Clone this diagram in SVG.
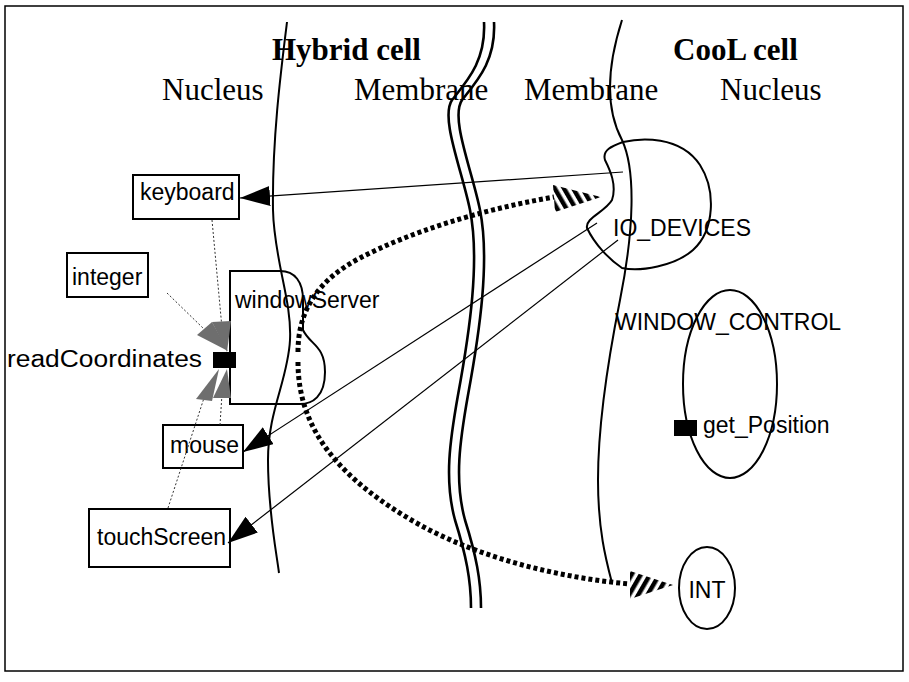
<svg xmlns="http://www.w3.org/2000/svg" width="909" height="682" viewBox="0 0 909 682">
<style>
.title{font-family:"Liberation Serif","Times New Roman",serif;font-size:31px;font-weight:bold;fill:#000}
.region{font-family:"Liberation Serif","Times New Roman",serif;font-size:31px;fill:#000}
.lbl{font-family:"Liberation Sans",Arial,sans-serif;font-size:23px;fill:#000}
.box{fill:#fff;stroke:#000;stroke-width:2}
.shape{fill:none;stroke:#000;stroke-width:2}
.bound{fill:none;stroke:#000;stroke-width:2}
.dbl{fill:none;stroke:#000;stroke-width:2.6}
.thin{fill:none;stroke:#000;stroke-width:1.2}
.dot{fill:none;stroke:#333;stroke-width:1;stroke-dasharray:2 2}
.hatch{fill:none;stroke:#000;stroke-width:5;stroke-dasharray:4 3}
.gray{fill:#6e6e6e}
</style>
<defs>
<marker id="arr" markerUnits="userSpaceOnUse" markerWidth="30" markerHeight="20" viewBox="0 0 30 20" refX="30" refY="10" orient="auto">
<path d="M0,0 L30,10 L0,20 Z" fill="#000"/>
</marker>
<pattern id="stripeA" patternUnits="userSpaceOnUse" width="8" height="8" patternTransform="rotate(-30)">
<rect x="0" y="0" width="4.5" height="8" fill="#000"/>
</pattern>
<pattern id="stripeB" patternUnits="userSpaceOnUse" width="8" height="8" patternTransform="rotate(30)">
<rect x="0" y="0" width="4.5" height="8" fill="#000"/>
</pattern>
</defs>
<rect x="5" y="6" width="898" height="665" fill="#fff" stroke="#000" stroke-width="1.5"/>

<g id="labels">
<text class="title" x="272" y="60">Hybrid cell</text>
<text class="title" x="673" y="60">CooL cell</text>
<text class="region" x="162" y="100">Nucleus</text>
<text class="region" x="354" y="100">Membrane</text>
<text class="region" x="524" y="100">Membrane</text>
<text class="region" x="720" y="100">Nucleus</text>
</g>

<g id="boundaries">
<path class="bound" d="M287,22 C281,70 272,140 273,210 C274,260 292,300 290,340 C288,380 268,410 268,460 C268,510 276,550 279,573"/>
<path class="dbl" d="M484,22 C486,60 468,80 452,100 C440,118 462,170 470,210 C480,260 470,330 458,395 C450,440 444,480 455,520 C466,555 471,580 471,608"/>
<path class="dbl" d="M494,22 C496,60 478,80 462,100 C450,118 472,170 480,210 C490,260 480,330 468,395 C460,440 454,480 465,520 C476,555 481,580 481,608"/>
<path class="bound" d="M622,20 C606,70 606,110 622,140 C636,170 634,230 620,300 C610,350 598,420 598,480 C598,530 606,560 612,583"/>
</g>

<g id="node-keyboard">
<rect class="box" x="133" y="175" width="106" height="44"/>
<text class="lbl" x="140" y="200">keyboard</text>
</g>
<g id="node-integer">
<rect class="box" x="67" y="253" width="81" height="44"/>
<text class="lbl" x="72" y="285">integer</text>
</g>
<g id="node-windowServer">
<path class="shape" d="M230,271 L280,271 C295,271 303,282 303,300 L303,330 C310,345 325,345 325,372 C325,397 312,404 300,404 L230,404 Z" fill="#fff"/>
<text class="lbl" x="235" y="308">windowServer</text>
</g>
<g id="node-readCoordinates">
<rect x="213" y="352" width="23" height="16" fill="#000"/>
<text class="lbl" x="7" y="367" textLength="195" lengthAdjust="spacingAndGlyphs">readCoordinates</text>
</g>
<g id="node-mouse">
<rect class="box" x="163" y="425" width="80" height="43"/>
<text class="lbl" x="170" y="453">mouse</text>
</g>
<g id="node-touchScreen">
<rect class="box" x="89" y="509" width="141" height="58"/>
<text class="lbl" x="97" y="545">touchScreen</text>
</g>
<g id="node-IO_DEVICES">
<path class="shape" d="M623,142 C640,138 680,135 700,165 C716,190 715,230 693,250 C675,266 640,272 622,268 C610,260 595,245 587,228 C585,218 605,212 612,200 C617,185 610,170 605,160 C602,150 612,146 623,142 Z"/>
<text class="lbl" x="613" y="236">IO_DEVICES</text>
</g>
<g id="node-WINDOW_CONTROL">
<ellipse class="shape" cx="730" cy="384" rx="47" ry="94"/>
<text class="lbl" x="615" y="330">WINDOW_CONTROL</text>
</g>
<g id="node-get_Position">
<rect x="674" y="420" width="23" height="16" fill="#000"/>
<text class="lbl" x="703" y="433">get_Position</text>
</g>
<g id="node-INT">
<ellipse class="shape" cx="707" cy="588" rx="28" ry="41"/>
<text class="lbl" x="707" y="598" text-anchor="middle">INT</text>
</g>

<g id="connectors">
<path class="thin" d="M623,172 L240,198" marker-end="url(#arr)"/>
<path class="thin" d="M597,223 L243,452" marker-end="url(#arr)"/>
<path class="thin" d="M618,240 L228,543" marker-end="url(#arr)"/>

<path class="dot" d="M212,220 L222,328"/>
<path class="dot" d="M167,293 L205,330"/>
<path class="dot" d="M220,425 L222,394"/>
<path class="dot" d="M168,508 L204,398"/>
<polygon class="gray" points="197,335 212,322 228,351"/>
<polygon class="gray" points="212,322 231,321 227,352"/>
<polygon class="gray" points="219,369 196,399 212,401"/>
<polygon class="gray" points="227,369 213,398 231,398"/>

<path class="hatch" d="M298,352 C298,310 318,280 360,258 C410,232 480,210 554,197"/>
<polygon points="553,185 601,197 555,212" fill="url(#stripeA)"/>
<path class="hatch" d="M298,362 C298,430 340,480 420,525 C480,558 560,578 630,584"/>
<polygon points="630,571 673,585 630,599" fill="url(#stripeB)"/>
</g>
</svg>
